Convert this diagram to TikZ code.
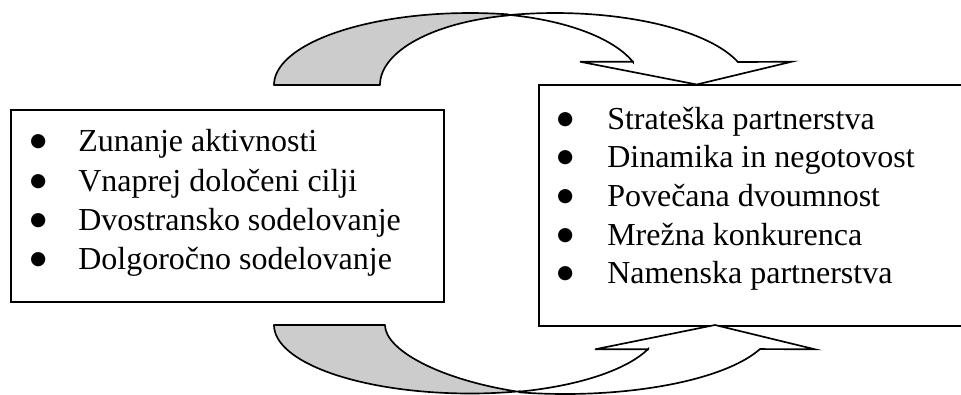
\documentclass[tikz,border=0pt]{standalone}
\usepackage{fontspec}
\setmainfont{Liberation Serif}
\newfontfamily\bulletfont{DejaVu Sans}
\definecolor{bandgrey}{HTML}{CCCCCC}
\tikzset{
  listbox/.style={draw=black, line width=1.25pt, fill=white, anchor=north west, inner sep=0pt},
  listtext/.style={anchor=base west, inner sep=0pt, align=left},
  bandback/.style={fill=bandgrey, draw=black, line width=1.25pt, line join=round},
  bandfront/.style={fill=white, draw=black, line width=1.25pt, line join=miter},
}
% bullet mark set in a fixed-width slot
\newcommand{\blt}{\makebox[30pt][c]{\raisebox{3.6pt}{\bulletfont\fontsize{14}{14}\selectfont ●}}}
\begin{document}
\begin{tikzpicture}[x=0.75pt, y=-0.75pt]
\useasboundingbox (0,0) rectangle (961,394);
\clip (0,0) rectangle (961,394);

% the two lists
\node[listbox, minimum width=324.75pt, minimum height=144pt] (leftbox) at (10,109) {};
\node[listbox, minimum width=327.75pt, minimum height=180.75pt] (rightbox) at (538,84) {};

\node[listtext, font=\fontsize{24}{29.5}\selectfont] (lefttext) at (18,151.7) {%
\begin{tabular}[t]{@{}l@{}}
\blt\hspace{15pt}Zunanje aktivnosti\\
\blt\hspace{15pt}Vnaprej določeni cilji\\
\blt\hspace{15pt}Dvostransko sodelovanje\\
\blt\hspace{15pt}Dolgoročno sodelovanje
\end{tabular}};

\node[listtext, font=\fontsize{24}{29}\selectfont] (righttext) at (545,129) {%
\begin{tabular}[t]{@{}l@{}}
\blt\hspace{16.5pt}Strateška partnerstva\\
\blt\hspace{16.5pt}Dinamika in negotovost\\
\blt\hspace{16.5pt}Povečana dvoumnost\\
\blt\hspace{16.5pt}Mrežna konkurenca\\
\blt\hspace{16.5pt}Namenska partnerstva
\end{tabular}};

% upper curved arrow: shaded back part
\filldraw[bandback]
  plot[domain=180:281.2, samples=50, variable=\t] ({470+196*cos(\t)},{85+72*sin(\t)})
  -- plot[domain=258.5:180, samples=50, variable=\t] ({540+160*cos(\t)},{85+71*sin(\t)})
  -- cycle;
% upper curved arrow: front part with head
\filldraw[bandfront]
  plot[domain=255.9:341.4, samples=50, variable=\t] ({555+193*cos(\t)},{85+72*sin(\t)})
  -- (791.7,61.7) -- (696.7,84.5) -- (580,61.7) -- (633,61.7)
  -- plot[domain=341.4:282.8, samples=50, variable=\t] ({470+172*cos(\t)},{85+72*sin(\t)})
  -- cycle;

% lower curved arrow: shaded back part
\filldraw[bandback]
  plot[domain=180:75.2, samples=50, variable=\t] ({470+196*cos(\t)},{325+68.5*sin(\t)})
  -- (520,392) .. controls (440,380) and (385,350) .. (385,325)
  -- cycle;
% lower curved arrow: front part with head
\filldraw[bandfront]
  plot[domain=102.5:20.4, samples=50, variable=\t] ({565+208*cos(\t)},{325+69*sin(\t)})
  -- (815,349.3) -- (715,325) -- (595,349.3) -- (648.3,349.3)
  -- plot[domain=20.2:74.7, samples=50, variable=\t] ({470+190*cos(\t)},{325+69*sin(\t)})
  -- cycle;
\end{tikzpicture}
\end{document}
